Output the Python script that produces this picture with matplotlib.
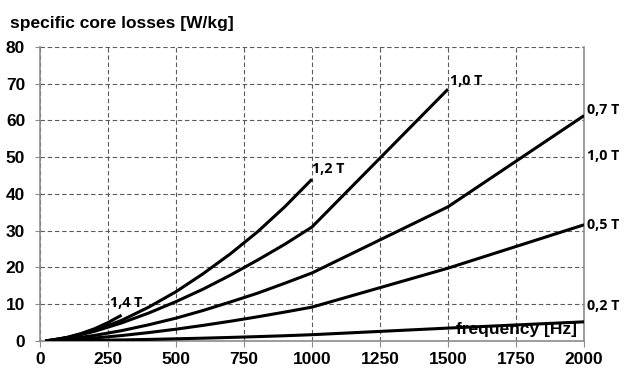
import numpy as np
import matplotlib
matplotlib.use('Agg')
import matplotlib.pyplot as plt

# data (frequency in Hz, losses in W/kg)
f_14 = [20, 50, 100, 150, 200, 250, 300]
p_14 = [0.0, 0.3, 1.0, 2.0, 3.3, 5.0, 7.0]

f_12 = [20, 100, 200, 300, 400, 500, 600, 700, 800, 900, 1000]
p_12 = [0.0, 0.85, 2.8, 5.6, 9.2, 13.4, 18.3, 23.7, 29.7, 36.5, 44.0]

f_10 = [20, 100, 200, 300, 400, 500, 600, 700, 800, 900, 1000, 1500]
p_10 = [0.0, 0.9, 2.6, 4.9, 7.6, 10.7, 14.1, 17.9, 22.0, 26.3, 31.0, 68.5]

f_07 = [20, 100, 200, 300, 400, 500, 600, 700, 800, 900, 1000, 1500, 2000]
p_07 = [0.0, 0.5, 1.5, 2.8, 4.4, 6.2, 8.3, 10.6, 13.0, 15.7, 18.5, 36.5, 61.3]

f_05 = [20, 100, 200, 300, 400, 500, 600, 700, 800, 900, 1000, 1500, 2000]
p_05 = [0.0, 0.28, 0.8, 1.47, 2.28, 3.2, 4.24, 5.36, 6.57, 7.86, 9.2, 19.8, 31.6]

f_02 = [20, 100, 200, 300, 400, 500, 600, 700, 800, 900, 1000, 1500, 2000]
p_02 = [0.0, 0.06, 0.16, 0.28, 0.42, 0.58, 0.76, 0.96, 1.18, 1.42, 1.7, 3.5, 5.2]

# label texts and where they sit (x in Hz, y in W/kg)
in_labels = ['1,4 T', '1,2 T', '1,0 T']
in_x = [257, 1000, 1507]
in_y = [10.3, 46.7, 70.6]

side_labels = ['0,7 T', '1,0 T', '0,5 T', '0,2 T']
side_y = [62.9, 50.3, 31.6, 9.5]

xticks = [0, 250, 500, 750, 1000, 1250, 1500, 1750, 2000]
yticks = [0, 10, 20, 30, 40, 50, 60, 70, 80]

fig = plt.figure(figsize=(6.24, 3.69), dpi=100)
ax = fig.add_axes([0.064, 0.076, 0.872, 0.797])

for f, p in [(f_14, p_14), (f_12, p_12), (f_10, p_10),
             (f_07, p_07), (f_05, p_05), (f_02, p_02)]:
    ax.plot(f, p, color='black', lw=2.2, solid_capstyle='butt', zorder=3)

ax.set_xlim(0, 2000)
ax.set_ylim(0, 80)
ax.set_xticks(xticks)
ax.set_yticks(yticks)
ax.grid(True, color='#5a5a5a', lw=0.8, linestyle=(0, (4, 2.5)))
ax.set_axisbelow(True)

for s in ['left', 'bottom', 'right']:
    ax.spines[s].set_color('#8c8c8c')
    ax.spines[s].set_linewidth(1.2)
ax.spines['top'].set_visible(False)
ax.tick_params(axis='y', length=3.6, color='#8c8c8c', pad=7)
ax.tick_params(axis='x', length=4, color='#8c8c8c', pad=4.3)
for lab in ax.get_xticklabels() + ax.get_yticklabels():
    lab.set_fontfamily('Liberation Sans')
    lab.set_fontweight('bold')
    lab.set_fontsize(12.5)

for t, x, y in zip(in_labels, in_x, in_y):
    ax.text(x, y, t, fontfamily='Open Sans', fontweight='bold', fontsize=10.3,
            ha='left', va='center', zorder=4)

for t, y in zip(side_labels, side_y):
    ax.text(1.006, y, t, transform=ax.get_yaxis_transform(),
            fontfamily='Open Sans', fontweight='bold', fontsize=10.3,
            ha='left', va='center', clip_on=False)

ax.text(1974, 3.1, 'frequency [Hz]', fontfamily='Liberation Sans',
        fontweight='bold', fontsize=12.5, ha='right', va='center', zorder=4)
fig.text(10 / 624, 1 - 28 / 369, 'specific core losses [W/kg]',
         fontfamily='Liberation Sans', fontweight='bold', fontsize=12.5,
         ha='left', va='baseline')

fig.savefig('out.png', dpi=100)
